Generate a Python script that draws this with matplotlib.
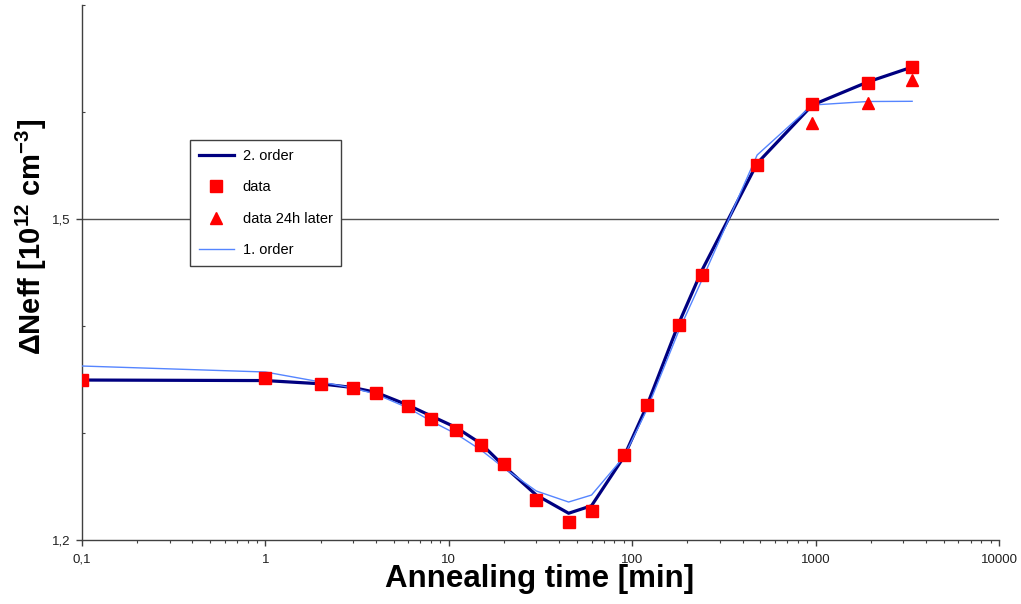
import matplotlib
matplotlib.use("Agg")
import matplotlib.pyplot as plt
from matplotlib.ticker import FixedLocator, FixedFormatter, LogLocator, NullFormatter

plt.rcParams['font.family'] = ['Liberation Sans', 'DejaVu Sans']
plt.rcParams['mathtext.fontset'] = 'custom'
plt.rcParams['mathtext.rm'] = 'Liberation Sans:bold'
plt.rcParams['mathtext.bf'] = 'Liberation Sans:bold'

# annealing time [min] (t=0 is drawn at 0.1)
t = [0.1, 1, 2, 3, 4, 6, 8, 11, 15, 20, 30, 45, 60, 90, 120, 180, 240, 480, 960, 1920, 3360]
data = [1.3495, 1.351, 1.346, 1.342, 1.337, 1.325, 1.313, 1.303, 1.289, 1.271, 1.237,
        1.217, 1.227, 1.279, 1.326, 1.401, 1.448, 1.5505, 1.6075, 1.627, 1.642]
order2 = [1.3495, 1.349, 1.346, 1.3425, 1.338, 1.326, 1.316, 1.305, 1.290, 1.269, 1.242,
          1.225, 1.232, 1.2776, 1.325, 1.403, 1.452, 1.552, 1.6065, 1.628, 1.642]
order1 = [1.3626, 1.357, 1.3477, 1.342, 1.3364, 1.3234, 1.3112, 1.299, 1.284, 1.2673, 1.2458,
          1.2355, 1.242, 1.2776, 1.3215, 1.396, 1.443, 1.5598, 1.6065, 1.6098, 1.610]
t_later = [960, 1920, 3360]
data_later = [1.590, 1.608, 1.630]

xticks = [0.1, 1, 10, 100, 1000, 10000]
xlabels = ["0,1", "1", "10", "100", "1000", "10000"]
yticks = [1.2, 1.5]
ylabels = ["1,2", "1,5"]

fig = plt.figure(figsize=(10.21, 6.04), dpi=100)
ax = fig.add_axes([82/1021, 1-540/604, (999-82)/1021, (540-5)/604])

ax.set_xscale('log')
ax.set_xlim(0.1, 10000)
ax.set_ylim(1.2, 1.7)

l2, = ax.plot(t, order2, color='#000080', lw=2.3, zorder=3, label='2. order')
l1, = ax.plot(t, order1, color='#5585ff', lw=1.0, zorder=3, label='1. order')
sq, = ax.plot(t, data, 's', color='#ff0000', ms=8, ls='none', zorder=4, label='data')
tr, = ax.plot(t_later, data_later, '^', color='#ff0000', ms=8.5, ls='none', zorder=4,
              label='data 24h later')

for s in ['top', 'right']:
    ax.spines[s].set_visible(False)
for s in ['left', 'bottom']:
    ax.spines[s].set_color('#404040')
    ax.spines[s].set_linewidth(1.0)

ax.xaxis.set_major_locator(FixedLocator(xticks))
ax.xaxis.set_major_formatter(FixedFormatter(xlabels))
ax.xaxis.set_minor_locator(LogLocator(base=10, subs=range(2, 10)))
ax.xaxis.set_minor_formatter(NullFormatter())
ax.yaxis.set_major_locator(FixedLocator(yticks))
ax.yaxis.set_major_formatter(FixedFormatter(ylabels))
ax.yaxis.set_minor_locator(FixedLocator([1.3, 1.4, 1.6, 1.7]))

ax.tick_params(which='major', direction='out', length=4, width=1, color='#404040',
               labelsize=9.5, labelcolor='#202020')
ax.tick_params(axis='x', which='major', pad=6)
ax.tick_params(axis='y', which='major', pad=4)
ax.tick_params(axis='x', which='minor', direction='out', length=2.5, width=0.8, color='#404040')
ax.tick_params(axis='y', which='minor', direction='in', length=2, width=0.8, color='#404040')

ax.axhline(1.5, color='#505050', lw=1.0, zorder=1)

leg = ax.legend([l2, sq, tr, l1], ['2. order', 'data', 'data 24h later', '1. order'],
                loc='upper left', bbox_to_anchor=(190/1021, 1-140/604),
                bbox_transform=fig.transFigure, fancybox=False, framealpha=1,
                edgecolor='#404040', fontsize=10.5, handlelength=2.4, handletextpad=0.6,
                labelspacing=1.2, borderpad=0.6, borderaxespad=0)
leg.get_frame().set_linewidth(1.0)
leg.set_zorder(5)

fig.text(540/1021, 1-587/604, 'Annealing time [min]', ha='center', va='baseline',
         fontsize=22.5, fontweight='bold')
fig.text(31/1021, 1-237/604, '\u0394Neff [10$^{12}$ cm$^{-3}$]', ha='center', va='center',
         rotation=90, fontsize=21, fontweight='bold')

fig.savefig('out.png', dpi=100)
